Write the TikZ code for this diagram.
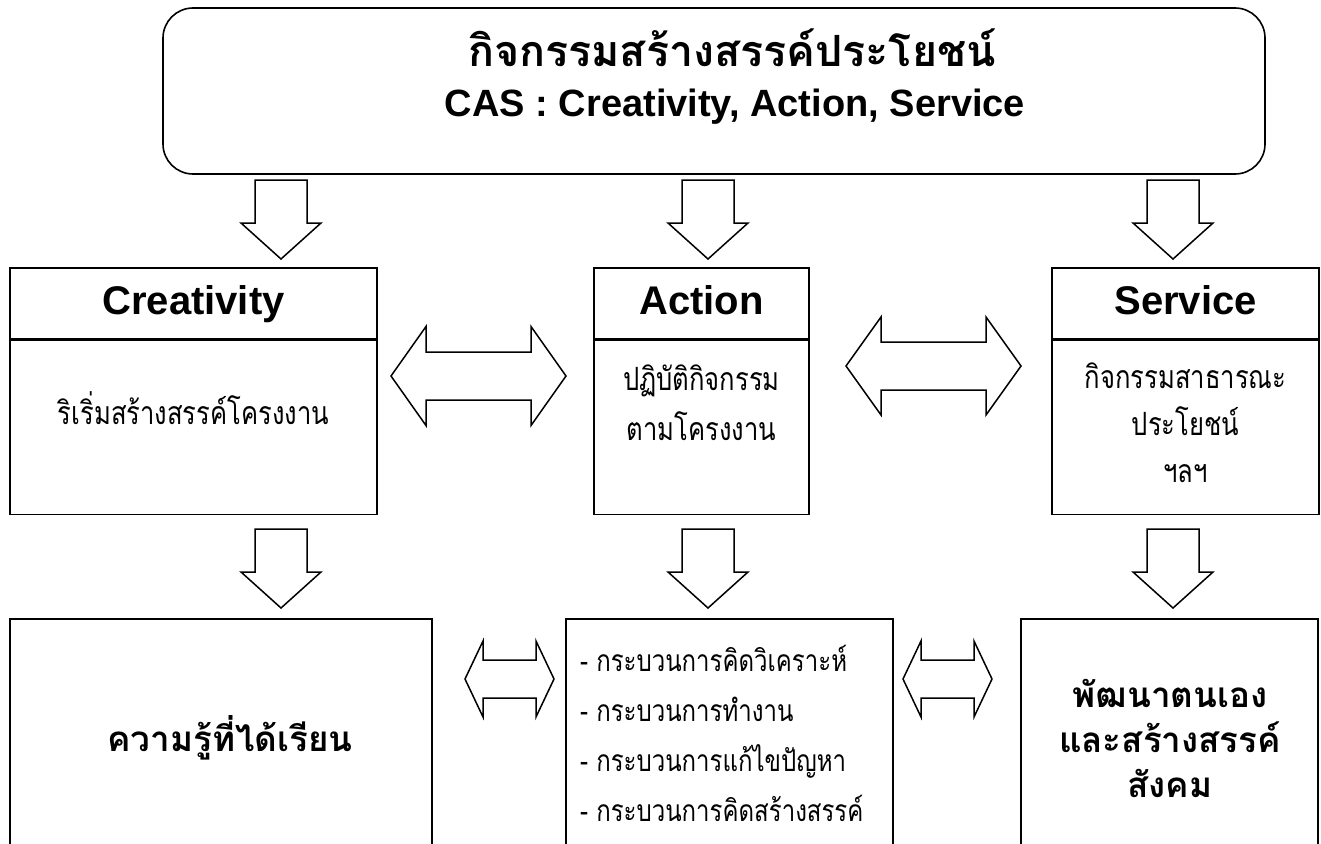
\documentclass[tikz,border=0pt]{standalone}
\usepackage{fontspec}
\setmainfont{Liberation Sans}
\newfontfamily\thaifont[Script=Thai]{Loma}
\newfontfamily\thaibody[Script=Thai,FakeStretch=0.8]{Loma}
\usetikzlibrary{positioning}

\tikzset{
  box/.style={draw, line width=1.6pt, inner sep=0pt},
  hdr/.style={box, font=\bfseries\fontsize{40}{46}\selectfont, text height=29pt, text depth=8pt},
  bodytxt/.style={font=\thaibody\fontsize{32}{50}\selectfont, align=center, inner sep=0pt},
  bigthai/.style={font=\thaifont\bfseries\fontsize{35}{45}\selectfont, align=center, inner sep=0pt},
  blk/.style={draw, line width=1.5pt, line join=miter, fill=white},
  dnarrow/.pic={\draw[blk] (-26,0) -- (26,0) -- (26,43) -- (40,43) -- (0,79) -- (-40,43) -- (-26,43) -- cycle;}
}
\newcommand{\dblarrow}[6]{%
  \draw[blk] (#1-#3,#2) -- (#1-#3+#4,#2-#5) -- (#1-#3+#4,#2-#6) -- (#1+#3-#4,#2-#6) -- (#1+#3-#4,#2-#5)
    -- (#1+#3,#2) -- (#1+#3-#4,#2+#5) -- (#1+#3-#4,#2+#6) -- (#1-#3+#4,#2+#6) -- (#1-#3+#4,#2+#5) -- cycle;}

\begin{document}
\begin{tikzpicture}[x=1pt, y=-1pt]
    \clip (0,0) rectangle (1321,843);
    \node[box, rounded corners=30pt, minimum width=1102pt, minimum height=166pt] (cas) at (714,91) {};
    \node[font=\thaifont\bfseries\fontsize{43}{50}\selectfont, inner sep=0pt] (ttl1) at (732,48) {กิจกรรมสร้างสรรค์ประโยชน์};
    \node[font=\bfseries\fontsize{38}{44}\selectfont, inner sep=0pt] (ttl2) at (735,107) {CAS : Creativity, Action, Service};

    \node[hdr, minimum width=367pt, minimum height=71pt] (cre) at (193.5,303.5) {Creativity};
    \node[box, minimum width=367pt, minimum height=174pt, below=0pt of cre] (creb) {};
    \node[hdr, minimum width=215pt, minimum height=71pt] (act) at (701.5,303.5) {Action};
    \node[box, minimum width=215pt, minimum height=174pt, below=0pt of act] (actb) {};
    \node[hdr, minimum width=267pt, minimum height=71pt] (ser) at (1185.5,303.5) {Service};
    \node[box, minimum width=267pt, minimum height=174pt, below=0pt of ser] (serb) {};

    \node[bodytxt] (cret) at (193.5,408) {ริเริ่มสร้างสรรค์โครงงาน};
    \node[bodytxt] (actt) at (701.5,403) {ปฏิบัติกิจกรรม\\ตามโครงงาน};
    \node[bodytxt, font=\thaibody\fontsize{32}{47}\selectfont] (sert) at (1185.5,423) {กิจกรรมสาธารณะ\\ประโยชน์\\ฯลฯ};

    \node[box, minimum width=422pt, minimum height=281pt] (kn) at (221,759.5) {};
    \node[box, minimum width=327pt, minimum height=281pt] (proc) at (729.5,759.5) {};
    \node[box, minimum width=297pt, minimum height=281pt] (dev) at (1169.5,759.5) {};

    \node[bigthai] (knt) at (230,738) {ความรู้ที่ได้เรียน};
    \node[bodytxt, font=\thaibody\fontsize{30}{50}\selectfont, align=left, anchor=west] (proct) at (580,733) {- กระบวนการคิดวิเคราะห์\\- กระบวนการทำงาน\\- กระบวนการแก้ไขปัญหา\\- กระบวนการคิดสร้างสรรค์};
    \node[bigthai] (devt) at (1170,738) {พัฒนาตนเอง\\และสร้างสรรค์\\สังคม};

    \pic (a1) at (281,180) {dnarrow};
    \pic (a2) at (708,180) {dnarrow};
    \pic (a3) at (1173,180) {dnarrow};
    \pic (b1) at (281,529) {dnarrow};
    \pic (b2) at (708,529) {dnarrow};
    \pic (b3) at (1173,529) {dnarrow};

    \dblarrow{478.5}{376}{87.5}{35}{49.5}{24}
    \dblarrow{933.5}{366}{87.5}{35}{49}{24}
    \dblarrow{509.5}{679}{44.5}{18}{38}{19}
    \dblarrow{947.5}{679}{44.5}{18}{38}{19}
\end{tikzpicture}
\end{document}
